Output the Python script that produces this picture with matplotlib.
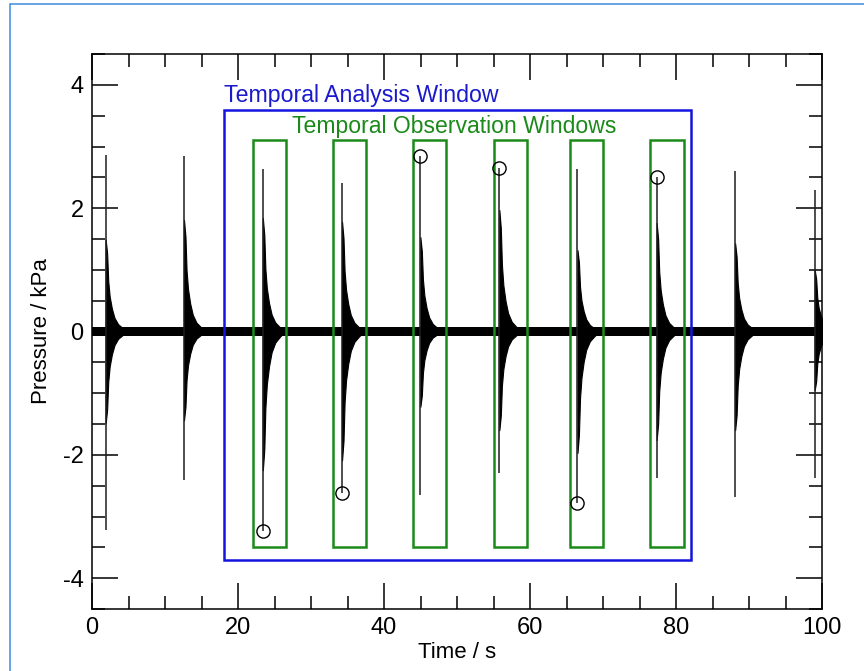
import numpy as np
import matplotlib
matplotlib.use('Agg')
import matplotlib.pyplot as plt
from matplotlib.patches import Rectangle

plt.rcParams['font.family'] = ['Liberation Sans', 'DejaVu Sans']
plt.rcParams['axes.unicode_minus'] = False

# spikes (time in s, pressure in kPa)
spike_t = [1.87, 12.6, 23.4, 34.25, 44.98, 55.8, 66.5, 77.35, 88.1, 99.0]
tip_pos = [2.87, 2.85, 2.64, 2.41, 2.84, 2.65, 2.64, 2.50, 2.61, 2.30]
tip_neg = [-3.22, -2.41, -3.24, -2.62, -2.65, -2.30, -2.78, -2.38, -2.69, -2.38]
thick_pos = [1.49, 1.81, 1.84, 1.78, 1.53, 1.97, 1.32, 1.76, 1.43, 1.00]
thick_neg = [-1.49, -1.44, -2.25, -2.09, -1.22, -1.60, -1.97, -1.76, -1.60, -0.95]

# decay envelope after each spike (offset in s, fraction of peak)
env_dt = [0.0, 0.2, 0.35, 0.55, 0.85, 1.2, 1.7, 2.3, 3.0]
env_frac = [1.0, 0.85, 0.55, 0.38, 0.25, 0.15, 0.08, 0.04, 0.0]

noise_level = 0.075

# picked extrema (circles)
circ_t = [23.4, 34.25, 44.98, 55.8, 66.5, 77.35]
circ_v = [-3.24, -2.62, 2.84, 2.65, -2.78, 2.50]

# observation windows
win_left = [22.05, 33.06, 44.0, 55.07, 65.48, 76.5]
win_right = [26.6, 37.49, 48.5, 59.6, 70.04, 81.1]
win_low, win_high = -3.5, 3.1

# analysis window
ana_left, ana_right = 18.04, 82.0
ana_low, ana_high = -3.7, 3.6

fig = plt.figure(figsize=(8.64, 6.71), dpi=100)
ax = fig.add_axes([0.1065, 0.0924, 0.8449, 0.8271])

# baseline noise band
ax.fill_between([0, 100], [-noise_level, -noise_level], [noise_level, noise_level],
                color='black', lw=0)

# spikes
dt = np.array(env_dt)
fr = np.array(env_frac)
for i in range(len(spike_t)):
    ax.vlines(spike_t[i], tip_neg[i], tip_pos[i], color='#1e1e1e', lw=1.1)
    ax.fill_between(spike_t[i] + dt, thick_neg[i] * fr, thick_pos[i] * fr,
                    color='black', lw=0.8, edgecolor='black')

ax.plot(circ_t, circ_v, 'o', mfc='none', mec='black', ms=9.5, mew=1.0)

for l, r in zip(win_left, win_right):
    ax.add_patch(Rectangle((l, win_low), r - l, win_high - win_low,
                           fill=False, ec='#1b8a1b', lw=1.8))
ax.add_patch(Rectangle((ana_left, ana_low), ana_right - ana_left, ana_high - ana_low,
                       fill=False, ec='#1414e0', lw=1.8))

ax.text(ana_left, 3.82, 'Temporal Analysis Window', color='#1a1acc',
        fontsize=16.7, ha='left', va='center')
ax.text(49.6, 3.33, 'Temporal Observation Windows', color='#1b8a1b',
        fontsize=16.6, ha='center', va='center')

ax.set_xlim(0, 100)
ax.set_ylim(-4.5, 4.5)
ax.set_xticks([0, 20, 40, 60, 80, 100])
ax.set_xticks(np.arange(0, 101, 5), minor=True)
ax.set_yticks([-4, -2, 0, 2, 4])
ax.set_yticks(np.arange(-4.5, 4.6, 0.5), minor=True)
ax.tick_params(which='both', direction='in', top=True, right=True,
               labelsize=17, width=1.1, pad=6)
ax.tick_params(which='major', length=18.5)
ax.tick_params(which='minor', length=9.4)
for s in ax.spines.values():
    s.set_linewidth(1.1)

ax.set_xlabel('Time / s', fontsize=16, labelpad=2)
ax.set_ylabel('Pressure / kPa', fontsize=16, labelpad=8)

# light blue frame of the screenshot
fig.patches.append(Rectangle((10 / 864, -0.05), 1.1, 1 - 4 / 671 + 0.05,
                             transform=fig.transFigure, fill=False,
                             ec='#4a95e0', lw=1.2))

fig.savefig('out.png', dpi=100)
